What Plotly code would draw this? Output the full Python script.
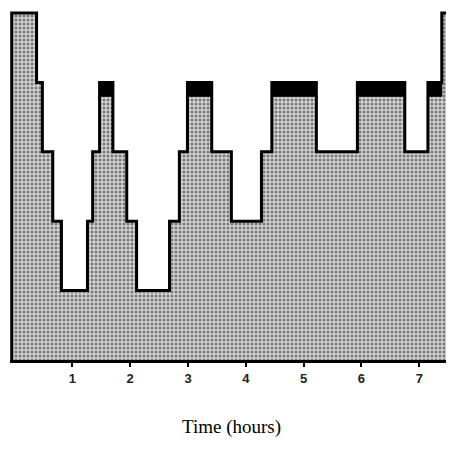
import plotly.graph_objects as go

# Sleep stage segments (start time in hours, level: 5=wake, 4=REM level, 3..1 lighter->deeper)
seg_start = [-0.05, 0.38, 0.48, 0.66, 0.81, 1.26, 1.35, 1.47, 1.70, 1.94, 2.11, 2.68, 2.85, 2.99,
             3.41, 3.75, 4.27, 4.45, 5.22, 5.93, 6.75, 7.15, 7.39]
seg_level = [5, 4, 3, 2, 1, 2, 3, 4, 3, 2, 1, 2, 3, 4,
             3, 2, 3, 4, 3, 4, 3, 4, 5]
end_time = 7.56

# REM episodes (black bands)
rem_start = [1.47, 2.99, 4.45, 5.93, 7.15]
rem_end = [1.70, 3.41, 5.22, 6.75, 7.39]
rem_level = 4
rem_band = 0.2

tick_vals = [1, 2, 3, 4, 5, 6, 7]
tick_text = ["1", "2", "3", "4", "5", "6", "7"]

xs = [seg_start[0]] + seg_start + [end_time]
ys = [0] + seg_level + [0]

fig = go.Figure()
fig.add_trace(go.Scatter(
    x=xs, y=ys, mode="lines", line=dict(shape="hv", color="black", width=3),
    fill="tozeroy",
    fillpattern=dict(shape=".", bgcolor="#d2d2d2", fgcolor="#1e1e1e", size=4, solidity=0.45),
    hoverinfo="skip", showlegend=False,
))

rx, ry = [], []
for a, b in zip(rem_start, rem_end):
    lo = rem_level - rem_band
    rx += [a, a, b, b, a, None]
    ry += [lo, rem_level, rem_level, lo, lo, None]
fig.add_trace(go.Scatter(
    x=rx, y=ry, mode="lines", fill="toself", fillcolor="black",
    line=dict(color="black", width=1), hoverinfo="skip", showlegend=False,
))

fig.update_layout(
    width=446, height=460,
    margin=dict(l=2, r=1, t=2, b=108),
    paper_bgcolor="white", plot_bgcolor="white",
    showlegend=False,
    xaxis=dict(
        range=[-0.08, 7.584], showgrid=False, zeroline=False,
        showline=True, linecolor="black", linewidth=3,
        tickvals=tick_vals, ticktext=tick_text,
        ticks="outside", ticklen=4, tickwidth=2, tickcolor="black",
        tickfont=dict(family="Liberation Sans", size=13, color="#222", weight="bold"),
        title=dict(text="Time (hours)", standoff=36,
                   font=dict(family="Liberation Serif", size=19, color="black")),
    ),
    yaxis=dict(range=[0, 5.043], visible=False, showgrid=False, zeroline=False),
)

fig.write_html("out.html")
